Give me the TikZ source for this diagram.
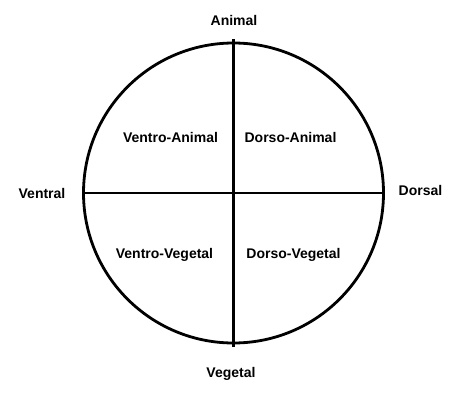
\documentclass[tikz,border=0pt]{standalone}
\usepackage{fontspec}
\setmainfont{Liberation Sans}
\begin{document}
\begin{tikzpicture}[x=1pt,y=-1pt,
  lbl/.style={font=\bfseries\fontsize{14}{16}\selectfont, anchor=base, inner sep=0pt},
  axis/.style={line width=2.8pt}]
\useasboundingbox[fill=white] (0,0) rectangle (454,404);
\coordinate (c) at (233.5,193);
\coordinate (top) at (233.5,39);
\coordinate (bot) at (233.5,347);
\coordinate (lft) at (83.5,193);
\coordinate (rgt) at (383.5,193);
\draw[axis] (c) circle[radius=150];
\draw[axis] (top) -- (bot);
\draw[axis] (lft) -- (rgt);
\node[lbl] (animal) at (234,26) {Animal};
\node[lbl] (vegetal) at (231,377) {Vegetal};
\node[lbl] (ventral) at (42,198) {Ventral};
\node[lbl] (dorsal) at (420.5,195) {Dorsal};
\node[lbl] (va) at (170.5,142) {Ventro-Animal};
\node[lbl] (da) at (290.5,142) {Dorso-Animal};
\node[lbl] (vv) at (164.5,258) {Ventro-Vegetal};
\node[lbl] (dv) at (293.5,258) {Dorso-Vegetal};
\end{tikzpicture}
\end{document}
